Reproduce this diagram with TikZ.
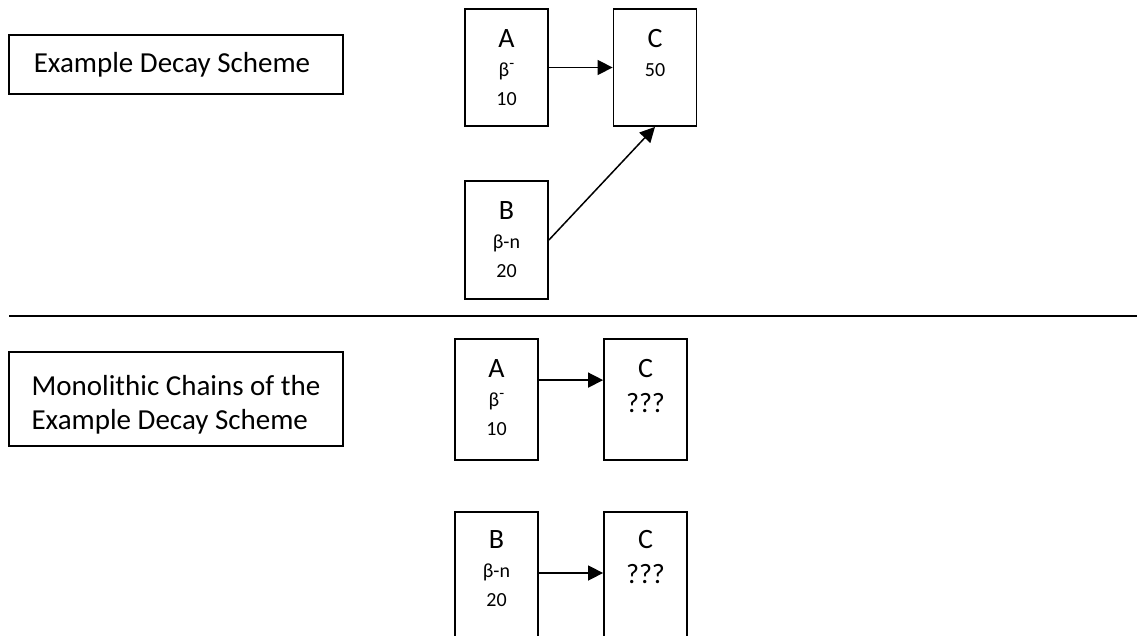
\documentclass[tikz,border=0pt]{standalone}
\usepackage{fontspec}
\setmainfont{Carlito}
\usetikzlibrary{arrows.meta}

\newcommand{\sm}{\fontsize{20}{29}\selectfont}
\newcommand{\bminus}{β\raisebox{8pt}{\fontsize{16}{16}\selectfont -}}

\begin{document}
\begin{tikzpicture}[x=1pt,y=-1pt,
    nbox/.style={draw,line width=1.8pt,minimum width=83pt,minimum height=117pt,inner sep=0pt},
    ntxt/.style={anchor=north,inner sep=0pt,align=center,font=\fontsize{28}{29}\selectfont},
    lbox/.style={draw,line width=1.8pt,minimum width=334pt,minimum height=59pt,align=left,font=\fontsize{29}{34}\selectfont},
    arr/.style={-{Triangle[length=15pt,width=15pt]},line width=1.5pt}]
  \useasboundingbox (0,0) rectangle (1137,636);
  \clip (0,0) rectangle (1137,636);
  \node[lbox] (lab1) at (176,64.5) {Example Decay Scheme\hspace*{8pt}};
  \node[lbox,minimum height=94pt] (lab2) at (176,399) {\rule{0pt}{31pt}Monolithic Chains of the\\Example Decay Scheme};
  \draw[line width=1.8pt] (9,316) -- (1137,316);
  \node[nbox] (a) at (506.5,67.5) {};
  \node[nbox] (c) at (655,67.5) {};
  \node[nbox,minimum height=118pt] (b) at (506.5,240) {};
  \node[ntxt] (at) at (a.north) {\rule{0pt}{39pt}A\\{\sm \bminus}\\{\sm 10}};
  \node[ntxt] (ct) at (c.north) {\rule{0pt}{39pt}C\\{\sm 50}};
  \node[ntxt] (bt) at (b.north) {\rule{0pt}{39pt}B\\{\sm β-n}\\{\sm 20}};
  \draw[arr] (a.east) -- (c.west);
  \draw[arr] (b.east) -- (c.south);
  \node[nbox,minimum height=121pt] (ma) at (496.5,399.5) {};
  \node[nbox,minimum height=121pt] (mca) at (645.5,399.5) {};
  \node[nbox,minimum height=140pt,anchor=north] (mb) at (496.5,511) {};
  \node[nbox,minimum height=140pt,anchor=north] (mcb) at (645.5,511) {};
  \node[ntxt] (mat) at (ma.north) {\rule{0pt}{39pt}A\\{\sm \bminus}\\{\sm 10}};
  \node[ntxt] (mcat) at (mca.north) {\rule{0pt}{39pt}C\\[6pt]???};
  \node[ntxt] (mbt) at (mb.north) {\rule{0pt}{37pt}B\\{\sm β-n}\\{\sm 20}};
  \node[ntxt] (mcbt) at (mcb.north) {\rule{0pt}{37pt}C\\[6pt]???};
  \draw[arr] ([yshift=-42pt]ma.north east) -- ([yshift=-42pt]mca.north west);
  \draw[arr] ([yshift=-62pt]mb.north east) -- ([yshift=-62pt]mcb.north west);
\end{tikzpicture}
\end{document}
